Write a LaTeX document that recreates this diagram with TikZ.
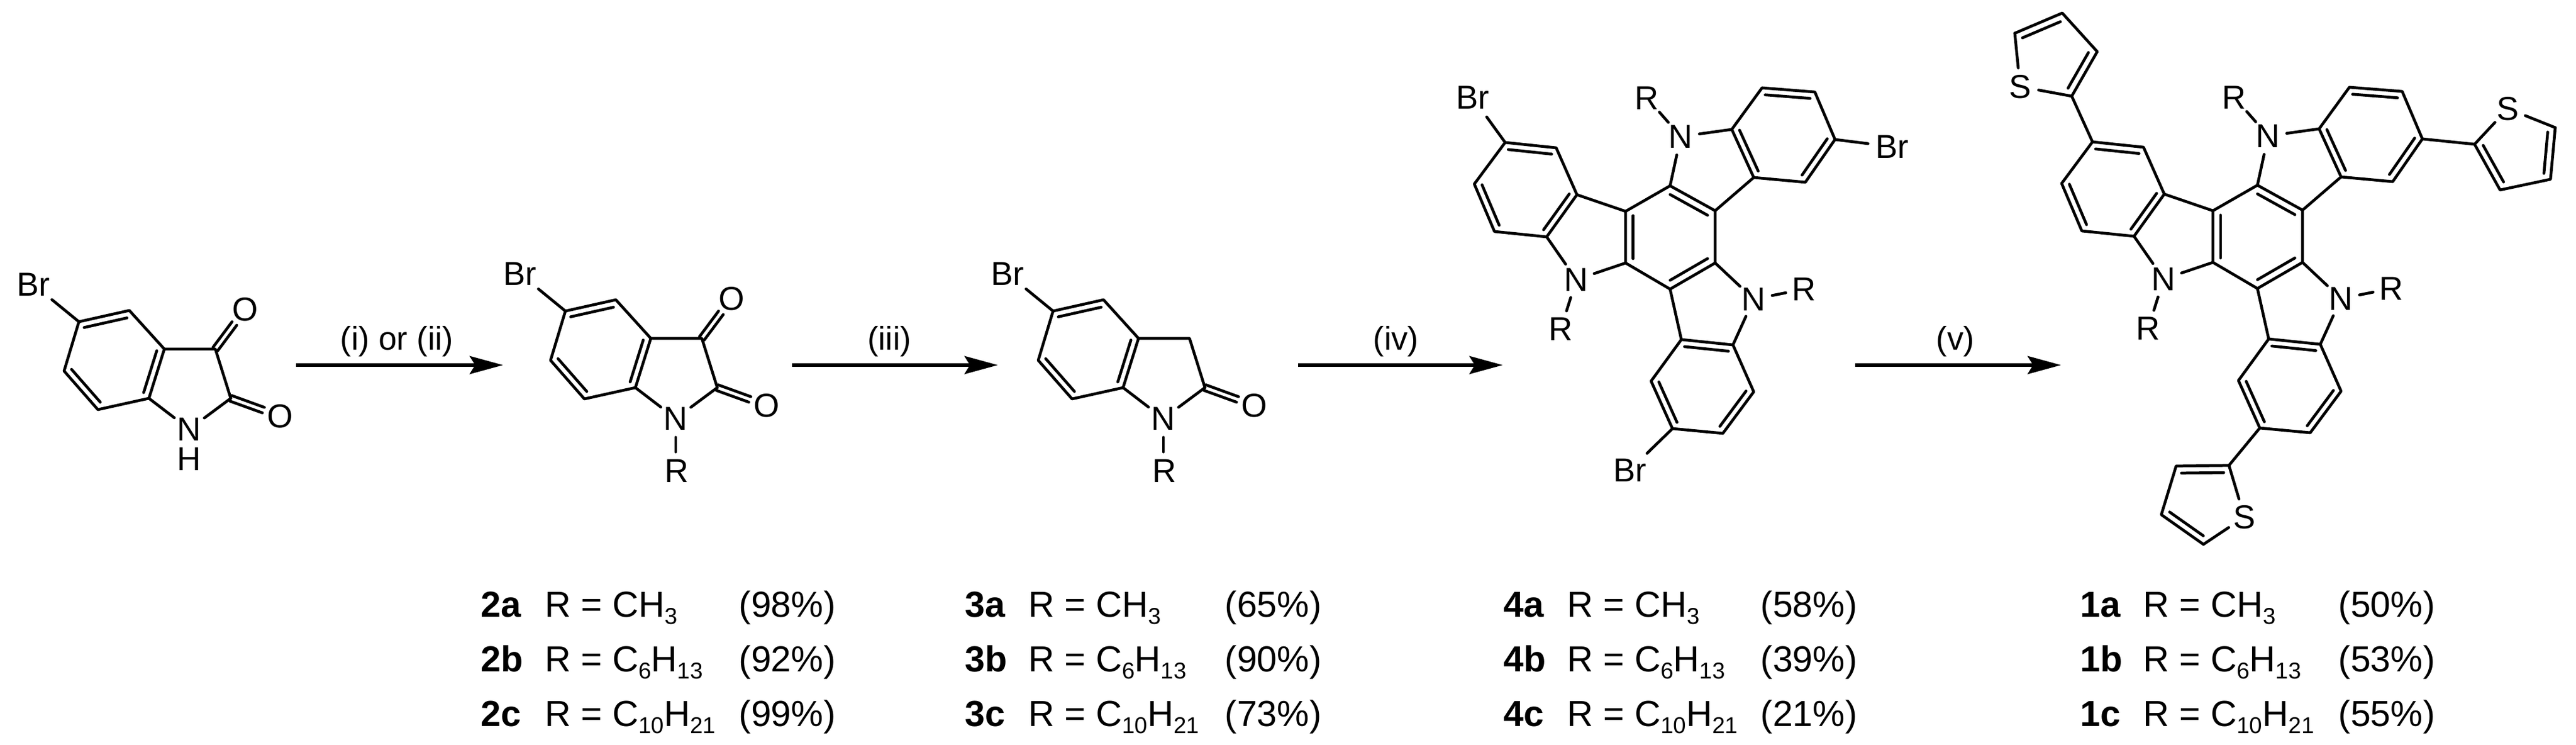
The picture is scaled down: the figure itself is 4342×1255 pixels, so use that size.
\documentclass[tikz,border=0pt]{standalone}
\usepackage{fontspec}
\setmainfont{Liberation Sans}
\usetikzlibrary{calc,arrows.meta}
\tikzset{
  bond/.style={line width=1.35pt,line join=round,line cap=round},
  atom/.style={circle,inner sep=0pt,minimum size=0.62cm,font=\fontsize{15.9}{18}\selectfont},
  halo/.style={circle,inner sep=0pt,minimum size=0.8cm,font=\fontsize{15.9}{18}\selectfont},
  rxn/.style={line width=1.5pt,-{Stealth[length=16pt,width=8.6pt,inset=2.6pt]}},
  cond/.style={anchor=base,inner sep=0pt,font=\fontsize{15.7}{18}\selectfont},
  leg/.style={anchor=base west,inner sep=0pt,font=\fontsize{17.35}{20}\selectfont},
}
\newcommand\sbs[1]{\raisebox{-0.21em}{\fontsize{11}{12}\selectfont #1}}
% inner line of a ring double bond: a, b, ring centre
\newcommand\dbl[4][.15]{\draw[bond] ($(#2)!#1!(#4)$) -- ($(#3)!#1!(#4)$);}
% carbonyl: carbon, oxygen node
\newcommand\cdbl[2]{%
  \coordinate (tmpe) at ($(#2)!8.5pt!(#1)$);
  \draw[bond] ($(#1)!1.4pt!90:(tmpe)$) -- ($(tmpe)!1.4pt!-90:(#1)$);
  \draw[bond] ($(#1)!1.4pt!-90:(tmpe)$) -- ($(tmpe)!1.4pt!90:(#1)$);}
% bromo-oxindole skeleton, prefix #1
\newcommand\oxindole[1]{%
  \coordinate (#1c5) at (133,542); \coordinate (#1c4) at (218,523);
  \coordinate (#1c3a) at (277,588); \coordinate (#1c3) at (363,588);
  \coordinate (#1c2) at (389,671); \coordinate (#1c7a) at (251,671);
  \coordinate (#1c7) at (165,690); \coordinate (#1c6) at (108,625);
  \coordinate (#1ctr) at ($(#1c5)!.5!(#1c7a)$);
  \node[atom] (#1N) at (319,723) {N};
  \node[atom] (#1O2) at (472,701) {O};
  \node[halo] (#1Br) at (56,479) {Br};
  \draw[bond] (#1c5) -- (#1c4) -- (#1c3a) -- (#1c7a) -- (#1c7) -- (#1c6) -- cycle;
  \draw[bond] (#1c3a) -- (#1c3) -- (#1c2);
  \draw[bond] (#1c7a) -- (#1N);
  \draw[bond] (#1c2) -- (#1N);
  \draw[bond] (#1c5) -- (#1Br);
  \dbl{#1c5}{#1c4}{#1ctr}
  \dbl{#1c6}{#1c7}{#1ctr}
  \dbl{#1c3a}{#1c7a}{#1ctr}
  \cdbl{#1c2}{#1O2}
}
\newcommand\ketone[1]{%
  \node[atom] (#1O1) at (413,521) {O};
  \cdbl{#1c3}{#1O1}
}
\newcommand\nalkyl[1]{%
  \node[atom] (#1R) at (321,811) {R};
  \draw[bond] (#1N) -- (#1N |- #1R.north);
}
% triindole core, prefix #1
\newcommand\triindole[1]{%
  \coordinate (#1a) at (2740,356); \coordinate (#1b) at (2815,313);
  \coordinate (#1c) at (2891,355); \coordinate (#1d) at (2891,443);
  \coordinate (#1e) at (2815,487); \coordinate (#1f) at (2740,443);
  \coordinate (#1z) at ($(#1a)!.5!(#1d)$);
  \draw[bond] (#1a) -- (#1b) -- (#1c) -- (#1d) -- (#1e) -- (#1f) -- cycle;
  \dbl[.17]{#1b}{#1c}{#1z}
  \dbl[.17]{#1d}{#1e}{#1z}
  \dbl[.17]{#1f}{#1a}{#1z}
  % upper unit
  \node[atom] (#1N1) at (2833,230) {N};
  \node[atom] (#1R1) at (2776,165) {R};
  \coordinate (#1g) at (2919,218); \coordinate (#1h) at (2970,148);
  \coordinate (#1i) at (3059,155); \coordinate (#1j) at (3093,235);
  \coordinate (#1k) at (3043,307); \coordinate (#1l) at (2956,299);
  \coordinate (#1y1) at ($(#1g)!.5!(#1j)$);
  \draw[bond] (#1g) -- (#1h) -- (#1i) -- (#1j) -- (#1k) -- (#1l) -- cycle;
  \draw[bond] (#1l) -- (#1c);
  \draw[bond] (#1N1) -- (#1g);
  \draw[bond] (#1N1) -- (#1b);
  \draw[bond] (#1N1) -- (#1R1);
  \dbl{#1g}{#1l}{#1y1} \dbl{#1h}{#1i}{#1y1} \dbl{#1j}{#1k}{#1y1}
  % left unit
  \node[atom] (#1N2) at (2657,471) {N};
  \node[atom] (#1R2) at (2631,554) {R};
  \coordinate (#1m) at (2607,399); \coordinate (#1n) at (2519,390);
  \coordinate (#1o) at (2485,310); \coordinate (#1p) at (2537,240);
  \coordinate (#1q) at (2623,249); \coordinate (#1r) at (2658,328);
  \coordinate (#1y2) at ($(#1m)!.5!(#1p)$);
  \draw[bond] (#1m) -- (#1n) -- (#1o) -- (#1p) -- (#1q) -- (#1r) -- cycle;
  \draw[bond] (#1r) -- (#1a);
  \draw[bond] (#1N2) -- (#1m);
  \draw[bond] (#1N2) -- (#1f);
  \draw[bond] (#1N2) -- (#1R2);
  \dbl{#1m}{#1r}{#1y2} \dbl{#1n}{#1o}{#1y2} \dbl{#1p}{#1q}{#1y2}
  % lower unit
  \node[atom] (#1N3) at (2956,504) {N};
  \node[atom] (#1R3) at (3041,487) {R};
  \coordinate (#1s) at (2921,581); \coordinate (#1t) at (2834,572);
  \coordinate (#1u) at (2783,642); \coordinate (#1v) at (2819,722);
  \coordinate (#1w) at (2904,730); \coordinate (#1x) at (2956,660);
  \coordinate (#1y3) at ($(#1s)!.5!(#1v)$);
  \draw[bond] (#1s) -- (#1t) -- (#1u) -- (#1v) -- (#1w) -- (#1x) -- cycle;
  \draw[bond] (#1t) -- (#1e);
  \draw[bond] (#1N3) -- (#1s);
  \draw[bond] (#1N3) -- (#1d);
  \draw[bond] (#1N3) -- (#1R3);
  \dbl{#1s}{#1t}{#1y3} \dbl{#1u}{#1v}{#1y3} \dbl{#1w}{#1x}{#1y3}
}
% thiophene: prefix, S position, C2, C3, C4, C5, attachment atom
\newcommand\thio[7]{%
  \node[atom] (#1S) at #2 {S};
  \coordinate (#1a) at #3; \coordinate (#1b) at #4;
  \coordinate (#1c) at #5; \coordinate (#1d) at #6;
  \coordinate (#1z) at (barycentric cs:#1S=1,#1a=1,#1b=1,#1c=1,#1d=1);
  \draw[bond] (#1a) -- (#1b) -- (#1c) -- (#1d);
  \draw[bond] (#1S) -- (#1a);
  \draw[bond] (#1S) -- (#1d);
  \draw[bond] (#1a) -- (#7);
  \dbl[.2]{#1a}{#1b}{#1z} \dbl[.2]{#1c}{#1d}{#1z}
}
% legend: prefix digit, x label, x R, x yield, three yields
\newcommand\legendgroup[7]{%
  \node[leg] (l#1al) at (#2,1039) {\bfseries #1a};
  \node[leg] (l#1ar) at (#3,1039) {R = CH\sbs{3}};
  \node[leg] (l#1ay) at (#4,1039) {(#5\%)};
  \node[leg] (l#1bl) at (#2,1131) {\bfseries #1b};
  \node[leg] (l#1br) at (#3,1131) {R = C\sbs{6}H\sbs{13}};
  \node[leg] (l#1by) at (#4,1131) {(#6\%)};
  \node[leg] (l#1cl) at (#2,1223) {\bfseries #1c};
  \node[leg] (l#1cr) at (#3,1223) {R = C\sbs{10}H\sbs{21}};
  \node[leg] (l#1cy) at (#4,1223) {(#7\%)};
}
\begin{document}
\begin{tikzpicture}[x=0.01cm,y=-0.01cm]
\fill[white] (0,0) rectangle (4342,1255);
\useasboundingbox (0,0) rectangle (4342,1255);

% compound: 5-bromoisatin
\begin{scope}
  \oxindole{A}
  \ketone{A}
  \node[atom] (AH) at (319,773) {H};
\end{scope}
% N-alkyl isatin
\begin{scope}[shift={(820,-18)}]
  \oxindole{B}
  \ketone{B}
  \nalkyl{B}
\end{scope}
% oxindole
\begin{scope}[shift={(1642,-18)}]
  \oxindole{C}
  \nalkyl{C}
\end{scope}
% bromo triindole
\triindole{D}
\node[halo] (DBr1) at (3189,247) {Br};
\node[halo] (DBr2) at (2482,164) {Br};
\node[halo] (DBr3) at (2747,792) {Br};
\draw[bond] (Dj) -- (DBr1);
\draw[bond] (Dp) -- (DBr2);
\draw[bond] (Dv) -- (DBr3);
% thienyl triindole
\begin{scope}[shift={(990,-1)}]
  \triindole{E}
\end{scope}
\thio{T1}{(3405,146)}{(3492,162)}{(3535,87)}{(3476,22)}{(3396,56)}{Ep}
\thio{T2}{(4227,183)}{(4171,243)}{(4214,320)}{(4299,302)}{(4307,215)}{Ej}
\thio{T3}{(3783,871)}{(3757,784)}{(3668,785)}{(3643,867)}{(3714,917)}{Ev}

% arrows
\coordinate (r1s) at (499,615);  \coordinate (r1e) at (848,615);
\coordinate (r2s) at (1335,615); \coordinate (r2e) at (1682,615);
\coordinate (r3s) at (2188,615); \coordinate (r3e) at (2533,615);
\coordinate (r4s) at (3127,615); \coordinate (r4e) at (3474,615);
\draw[rxn] (r1s) -- (r1e);
\draw[rxn] (r2s) -- (r2e);
\draw[rxn] (r3s) -- (r3e);
\draw[rxn] (r4s) -- (r4e);
\node[cond] (c1) at (669,589) {(i) or (ii)};
\node[cond] (c2) at (1499,589) {(iii)};
\node[cond] (c3) at (2353,589) {(iv)};
\node[cond] (c4) at (3296,589) {(v)};

% legends
\legendgroup{2}{810}{918}{1245}{98}{92}{99}
\legendgroup{3}{1626}{1733}{2064}{65}{90}{73}
\legendgroup{4}{2534}{2641}{2967}{58}{39}{21}
\legendgroup{1}{3506}{3612}{3941}{50}{53}{55}
\end{tikzpicture}
\end{document}
